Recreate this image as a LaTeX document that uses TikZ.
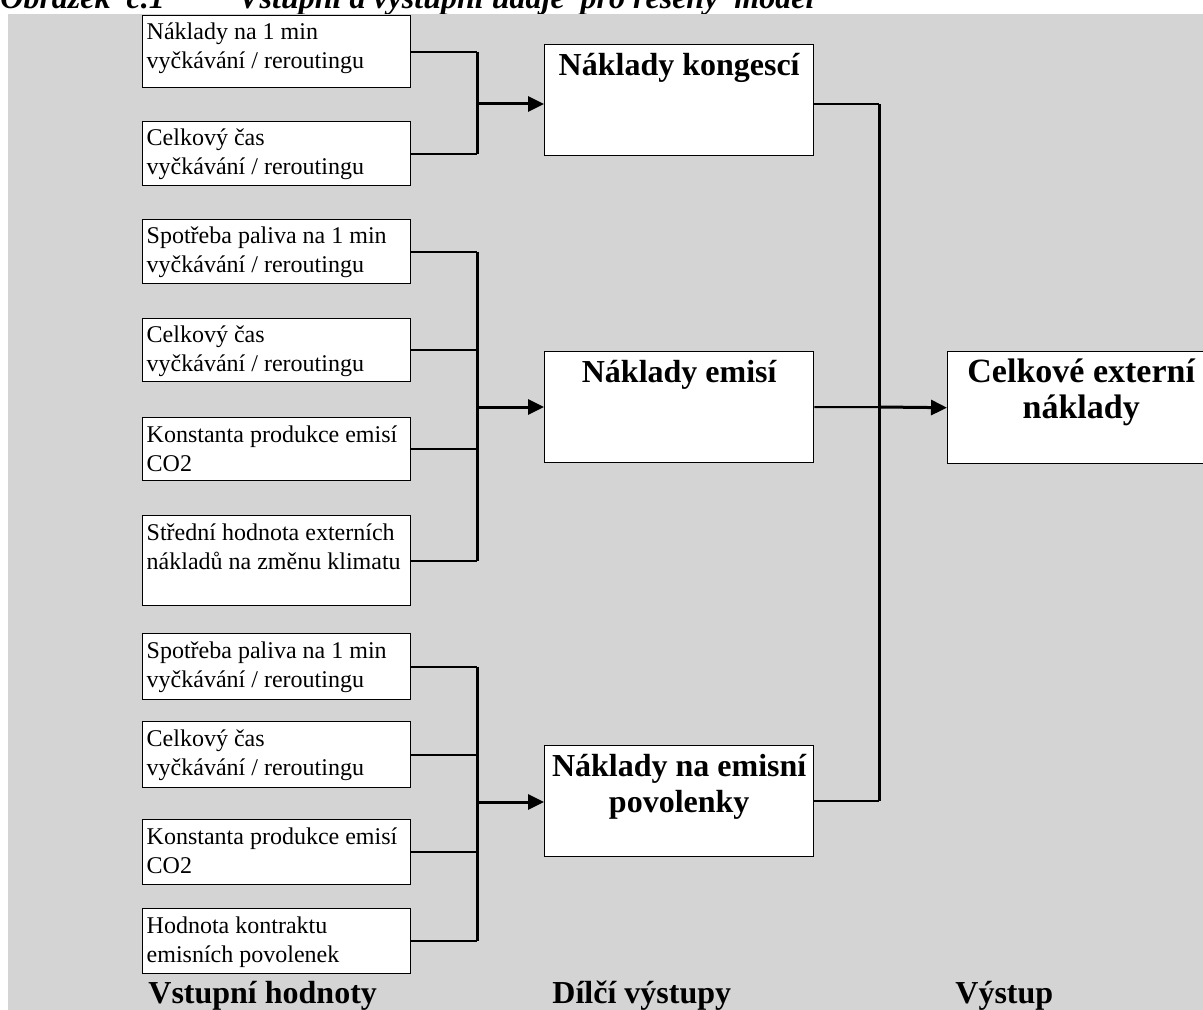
\documentclass[tikz,border=0pt]{standalone}
\usepackage{fontspec}
\setmainfont{Liberation Serif}
\usetikzlibrary{arrows.meta}
\definecolor{panel}{RGB}{212,212,212}
\newcommand{\intext}[2]{\parbox[t][#1][t]{130pt}{\strut #2}}
\newcommand{\midtext}[1]{\parbox[t][49.5pt][t]{128.5pt}{\centering\strut #1}}

\begin{document}
\begin{tikzpicture}[x=0.5pt,y=-0.5pt,>={Triangle[length=8pt,width=7.5pt]},
    inbox/.style={draw,fill=white,line width=.7pt,anchor=north west,inner sep=2pt,
      font=\fontsize{12}{14.5}\selectfont},
    outbox/.style={draw,fill=white,line width=.7pt,anchor=north west,inner sep=3pt,
      font=\bfseries\fontsize{16}{18}\selectfont},
    wire/.style={line width=1pt},
    spine/.style={line width=1.5pt},
    feed/.style={->,line width=1.5pt},
    heading/.style={anchor=base west,inner sep=0pt,font=\bfseries\fontsize{16}{18}\selectfont},
    caption/.style={anchor=base west,inner sep=0pt,font=\bfseries\itshape\fontsize{16}{18}\selectfont}]
    \useasboundingbox (0,0) rectangle (1203,1010);
    \clip (0,0) rectangle (1203,1010);

    % The caption, cut off at the top edge.
    \node[caption] (capno) at (0,9) {Obrázek\ \ č.1};
    \node[caption] (captext) at (238,9) {Vstupní a výstupní údaje\ \ pro řešený\ \ model};
    \fill[panel] (8,14) rectangle (1203,1010);

    % Inputs of the congestion costs.
    \node[inbox] (in1) at (142,15) {\intext{32pt}{Náklady na 1 min\\vyčkávání / reroutingu}};
    \node[inbox] (in2) at (142,121) {\intext{28pt}{Celkový čas\\vyčkávání / reroutingu}};

    % Inputs of the emission costs.
    \node[inbox] (in3) at (142,219) {\intext{28pt}{Spotřeba paliva na 1 min\\vyčkávání / reroutingu}};
    \node[inbox] (in4) at (142,318) {\intext{27.5pt}{Celkový čas\\vyčkávání / reroutingu}};
    \node[inbox] (in5) at (142,417) {\intext{27.5pt}{Konstanta produkce emisí\\CO2}};
    \node[inbox] (in6) at (142,515) {\intext{41pt}{Střední hodnota externích\\nákladů na změnu klimatu}};

    % Inputs of the allowance costs.
    \node[inbox] (in7) at (142,633) {\intext{29pt}{Spotřeba paliva na 1 min\\vyčkávání / reroutingu}};
    \node[inbox] (in8) at (142,721) {\intext{29pt}{Celkový čas\\vyčkávání / reroutingu}};
    \node[inbox] (in9) at (142,819) {\intext{28.5pt}{Konstanta produkce emisí\\CO2}};
    \node[inbox] (in10) at (142,908) {\intext{28.5pt}{Hodnota kontraktu\\emisních povolenek}};

    % The partial outputs and the output.
    \node[outbox] (kong) at (544,44) {\midtext{Náklady kongescí}};
    \node[outbox] (emi) at (544,351) {\midtext{Náklady emisí}};
    \node[outbox] (pov) at (544,745) {\midtext{Náklady na emisní\\povolenky}};
    \node[outbox,font=\bfseries\fontsize{17}{18}\selectfont] (total) at (947,351)
      {\parbox[t][50pt][t]{127.5pt}{\centering\strut Celkové externí\\náklady}};

    % Brackets joining each group of inputs.
    \coordinate (j1) at (477,104);
    \coordinate (j2) at (477,407);
    \coordinate (j3) at (477,802);
    \foreach \n in {in1,in2} \draw[wire] (\n.east) -- (\n.east -| j1);
    \foreach \n in {in3,in4,in5,in6} \draw[wire] (\n.east) -- (\n.east -| j2);
    \foreach \n in {in7,in8,in9,in10} \draw[wire] (\n.east) -- (\n.east -| j3);
    \draw[spine] (in1.east -| j1) -- (in2.east -| j1);
    \draw[spine] (in3.east -| j2) -- (in6.east -| j2);
    \draw[spine] (in7.east -| j3) -- (in10.east -| j3);
    \draw[feed] (j1) -- (j1 -| kong.west);
    \draw[feed] (j2) -- (j2 -| emi.west);
    \draw[feed] (j3) -- (j3 -| pov.west);

    % The partial outputs run into the total.
    \coordinate (j4) at (879,407);
    \draw[wire] (kong.east |- j1) -- (j4 |- j1);
    \draw[wire] (emi.east) -- (j4);
    \draw[wire] (pov.east) -- (pov.east -| j4);
    \draw[spine] (j4 |- j1) -- (pov.east -| j4);
    \draw[feed] (j4) -- (total.west);

    % Column headings.
    \node[heading] (hin) at (148,1003) {Vstupní hodnoty};
    \node[heading] (hmid) at (552,1003) {Dílčí výstupy};
    \node[heading] (hout) at (955,1003) {Výstup};
  \end{tikzpicture}
\end{document}
